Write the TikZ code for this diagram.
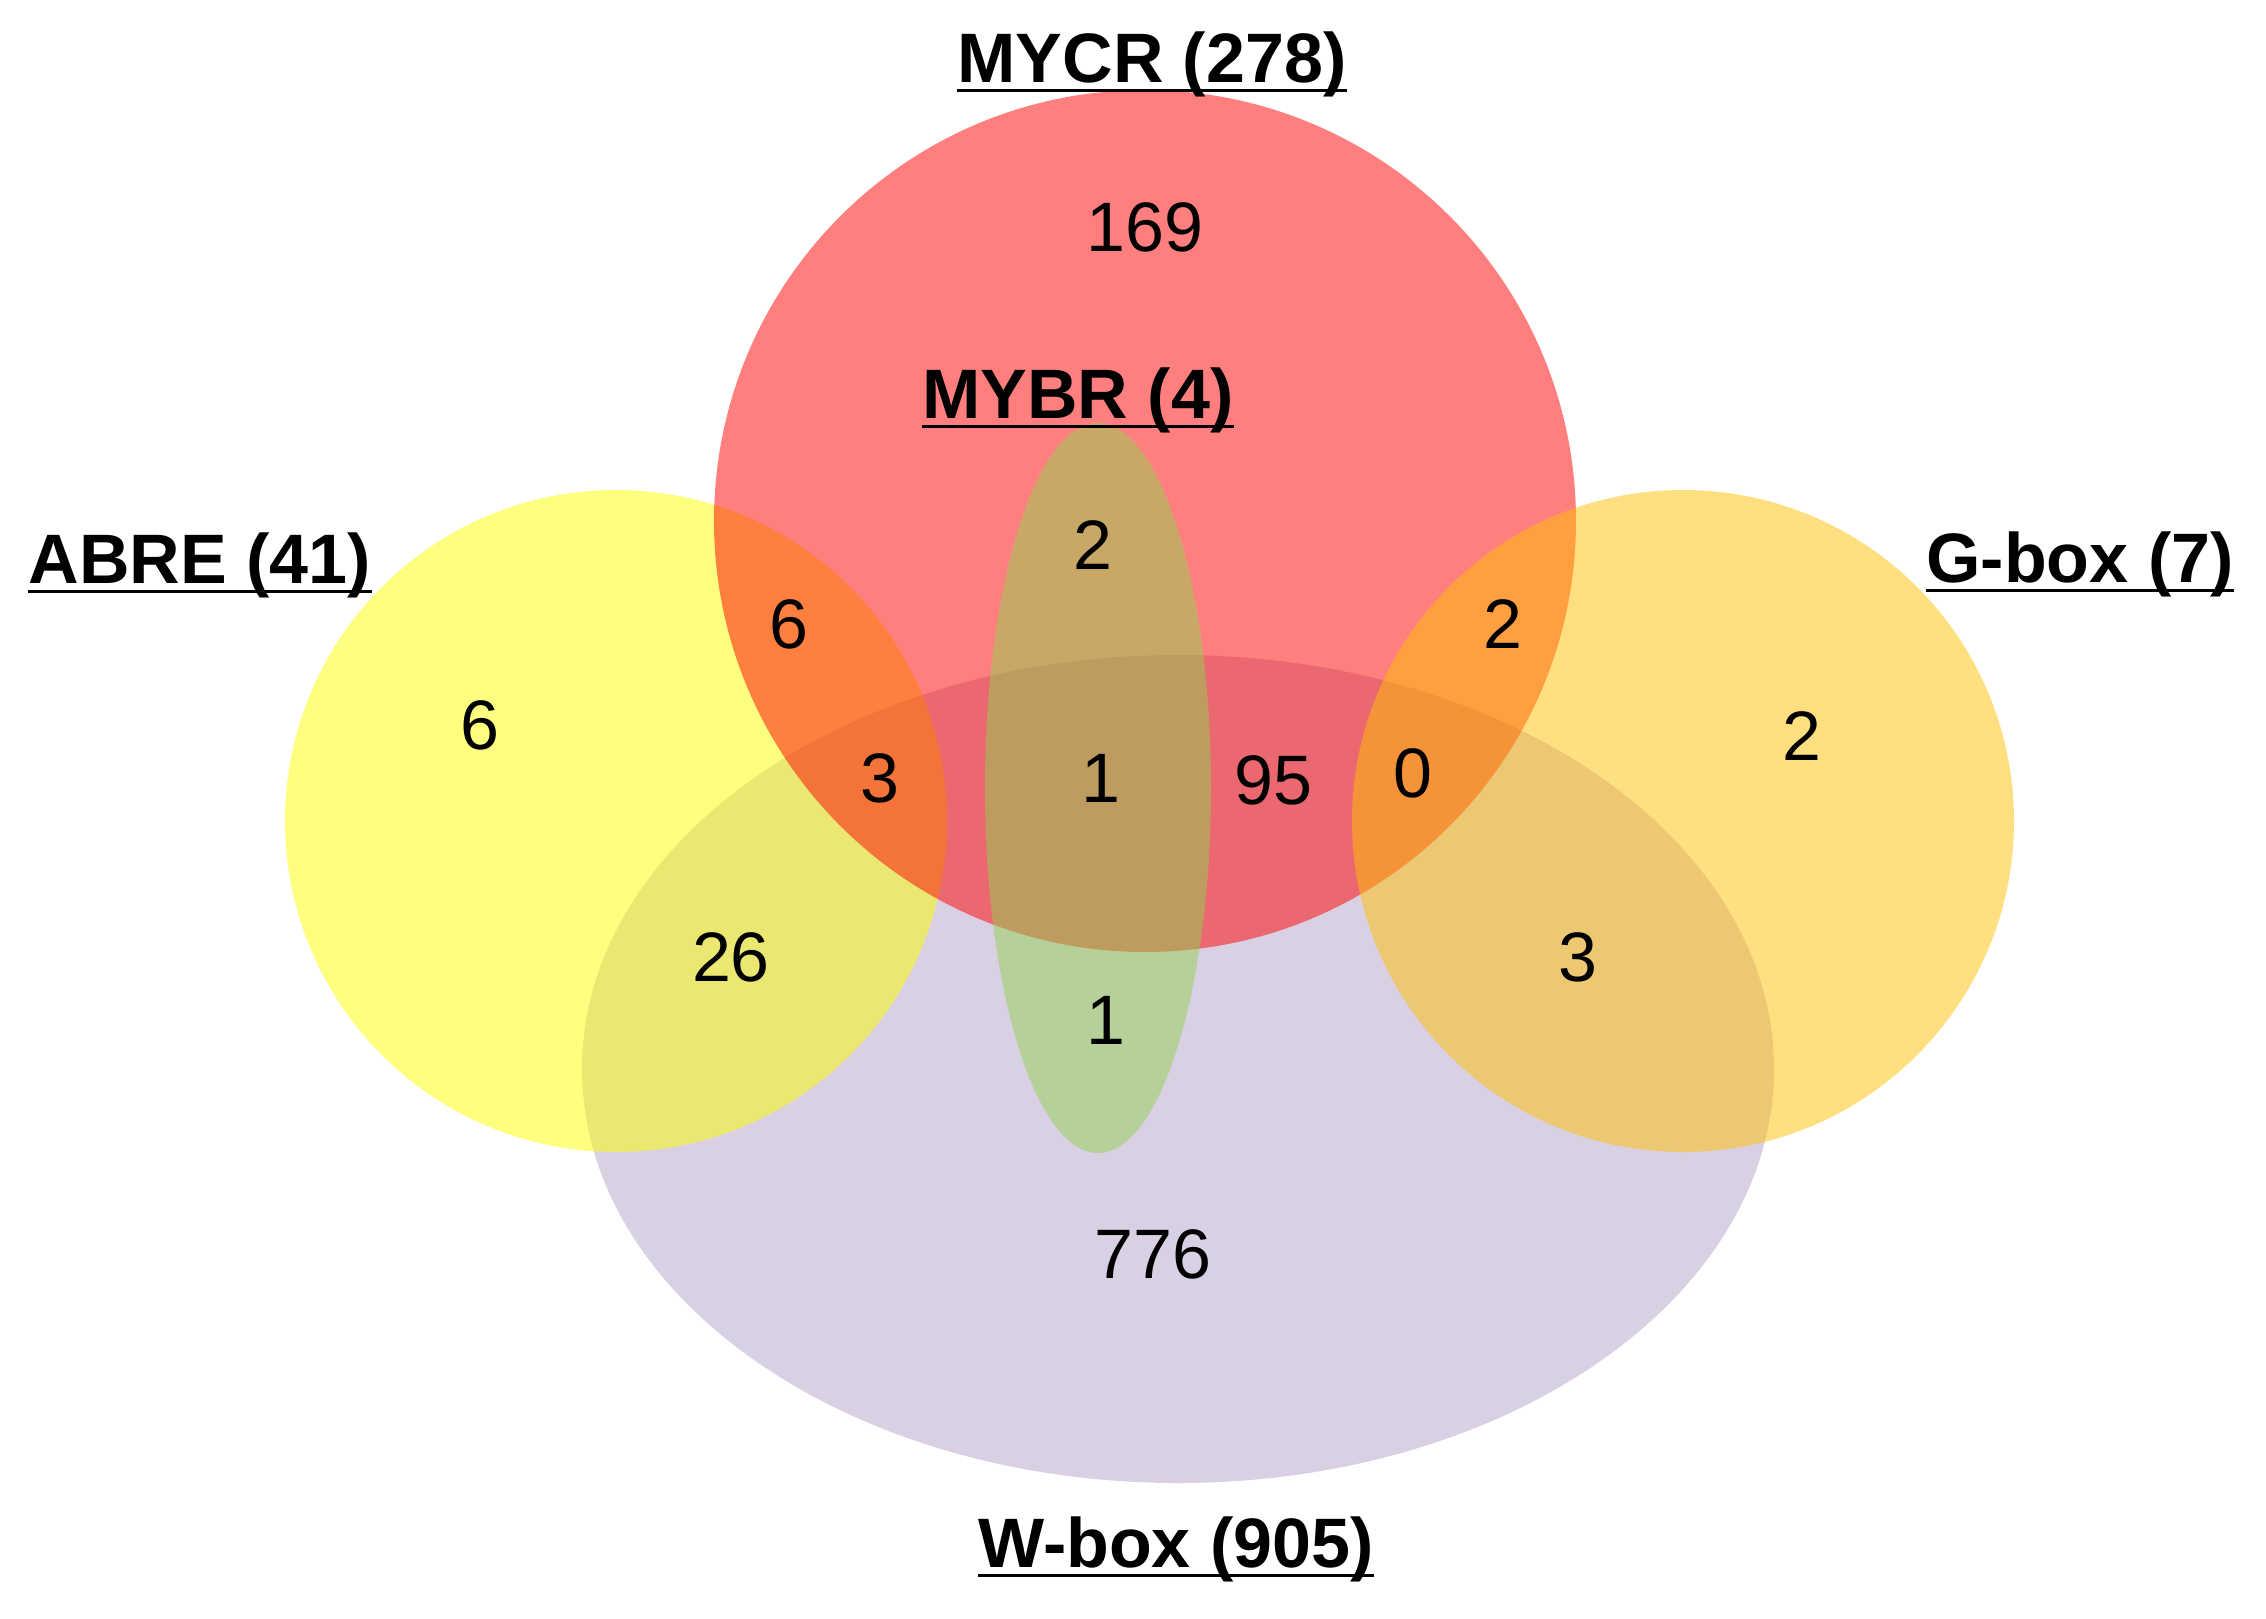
\documentclass[tikz,border=0pt]{standalone}
\usepackage{fontspec}
\setmainfont{Liberation Sans}
\begin{document}
\begin{tikzpicture}[x=0.5pt,y=-0.5pt,
  setfill/.style={fill opacity=0.5},
  setlabel/.style={inner sep=0pt,anchor=base,font=\fontsize{35}{40}\selectfont\bfseries},
  count/.style={inner sep=0pt,anchor=center,font=\fontsize{35}{40}\selectfont},
  ul/.style={line width=1.6pt}]
\definecolor{wcol}{HTML}{B3A2C7}
\definecolor{acol}{HTML}{FFFF00}
\definecolor{mcol}{HTML}{FF0000}
\definecolor{gcol}{HTML}{FFC000}
\definecolor{bcol}{HTML}{92D050}
\useasboundingbox (0,0) rectangle (2266,1618);
% sets
\fill[wcol,setfill] (1178,1069) ellipse [x radius=298pt, y radius=207pt];
\fill[acol,setfill] (616,821) circle [radius=165.5pt];
\fill[mcol,setfill] (1145,521) circle [radius=215.5pt];
\fill[gcol,setfill] (1683,821) circle [radius=165.5pt];
\fill[bcol,setfill] (1098,788) ellipse [x radius=56.5pt, y radius=182.5pt];
% set labels
\node[setlabel] (lmycr) at (1152,82) {MYCR (278)};
\node[setlabel] (lmybr) at (1078,418) {MYBR (4)};
\node[setlabel] (labre) at (200,583) {ABRE (41)};
\node[setlabel] (lgbox) at (2080,582) {G-box (7)};
\node[setlabel] (lwbox) at (1176,1567) {W-box (905)};
\foreach \n in {lmycr,lmybr,labre,lgbox,lwbox}
  \draw[ul] ([yshift=-4.3pt]\n.base west) -- ([yshift=-4.3pt]\n.base east);
% counts
\node[count] (c169) at (1145,227) {169};
\node[count] (cmm) at (1093,545) {2};
\node[count] (cam) at (789,624) {6};
\node[count] (ca) at (480,725) {6};
\node[count] (camw) at (880,778) {3};
\node[count] (cbmw) at (1101,778) {1};
\node[count] (cmw) at (1273,780) {95};
\node[count] (cgmw) at (1413,773) {0};
\node[count] (cgm) at (1503,624) {2};
\node[count] (cg) at (1802,736) {2};
\node[count] (caw) at (731,957) {26};
\node[count] (cgw) at (1578,957) {3};
\node[count] (cbw) at (1106,1020) {1};
\node[count] (cw) at (1153,1254) {776};
\end{tikzpicture}
\end{document}
